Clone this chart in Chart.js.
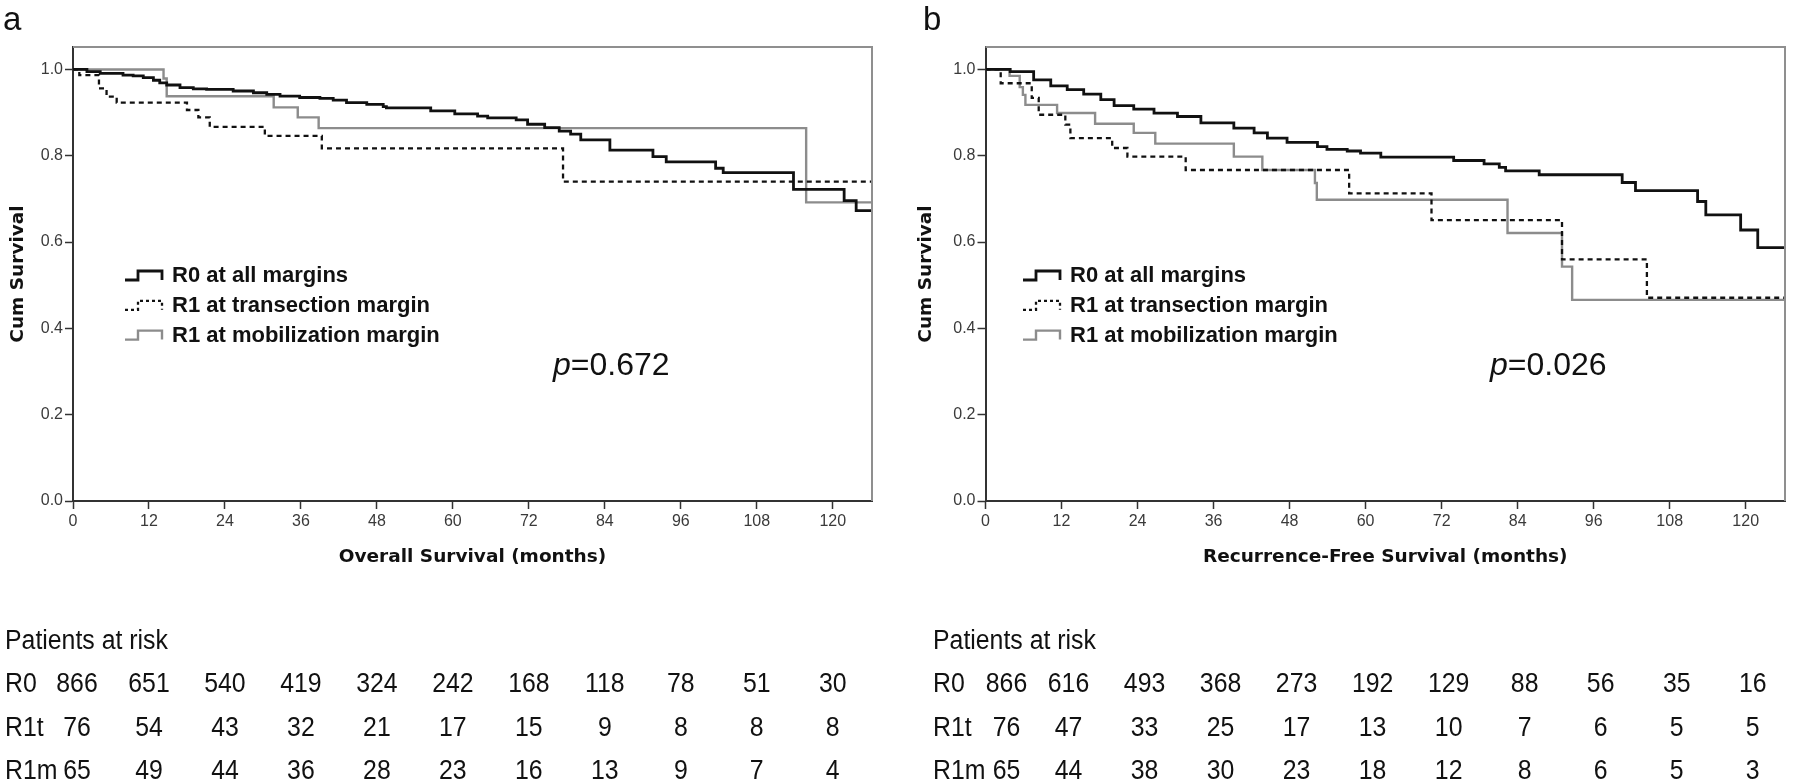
<!DOCTYPE html>
<html>
<head>
<meta charset="utf-8">
<title>Survival by margin status</title>
<script src="https://cdn.jsdelivr.net/npm/chart.js@4.4.1/dist/chart.umd.min.js"></script>
<style>
  html, body { margin: 0; padding: 0; background: #fff; }
  .row { display: flex; width: 1800px; height: 784px; }
  canvas { display: block; }
</style>
</head>
<body>
<div class="row">
  <canvas id="osChart" width="900" height="784"></canvas>
  <canvas id="rfsChart" width="900" height="784"></canvas>
</div>
<script>
const monthTicks = [0, 12, 24, 36, 48, 60, 72, 84, 96, 108, 120];
const survivalTicks = [0, 0.2, 0.4, 0.6, 0.8, 1.0];
const groupNames = ["R0 at all margins", "R1 at transection margin", "R1 at mobilization margin"];
const riskLabels = ["R0", "R1t", "R1m"];
const maxMonth = 126.2;

// a - overall survival, KM steps
const osR0Months = [0, 2.2, 4.3, 7.9, 9.5, 11.1, 12.7, 13.7, 14.8, 16.9, 19, 21.1, 25.3, 28.5, 30.6, 32.7, 35.8, 39, 41.1, 43.2, 46.4, 49, 49.5, 56.5, 60.3, 63.9, 65.5, 70, 71.8, 74.5, 76.8, 78.6, 80.2, 84.8, 91.6, 93.7, 101.5, 102.7, 113.8, 121.8, 123.7, 126.2];
const osR0Surv = [1, 0.995, 0.991, 0.987, 0.985, 0.981, 0.975, 0.969, 0.964, 0.958, 0.955, 0.954, 0.950, 0.946, 0.942, 0.938, 0.935, 0.933, 0.929, 0.923, 0.919, 0.914, 0.911, 0.904, 0.897, 0.892, 0.888, 0.883, 0.873, 0.865, 0.857, 0.850, 0.837, 0.813, 0.798, 0.786, 0.771, 0.761, 0.722, 0.696, 0.673, 0.673];
const osR1tMonths = [0, 1, 4.1, 5.3, 6.9, 18, 19.8, 21.6, 30.3, 39.3, 77.4, 126.2];
const osR1tSurv = [1, 0.987, 0.956, 0.937, 0.923, 0.906, 0.889, 0.867, 0.846, 0.817, 0.740, 0.740];
const osR1mMonths = [0, 14.3, 14.8, 31.7, 35.5, 38.8, 115.8, 126.2];
const osR1mSurv = [1, 0.979, 0.938, 0.912, 0.889, 0.864, 0.692, 0.692];
const osRiskR0 = [866, 651, 540, 419, 324, 242, 168, 118, 78, 51, 30];
const osRiskR1t = [76, 54, 43, 32, 21, 17, 15, 9, 8, 8, 8];
const osRiskR1m = [65, 49, 44, 36, 28, 23, 16, 13, 9, 7, 4];
const osPValue = "0.672";

// b - recurrence-free survival
const rfsR0Months = [0, 3.9, 7.6, 10.3, 12.9, 15.5, 18.2, 20.3, 23.4, 26.6, 30.3, 34, 39.2, 42.4, 44.5, 47.6, 52.4, 53.9, 57.1, 59.2, 62.4, 73.9, 78.7, 81.1, 82.1, 87.4, 100.5, 102.6, 112.4, 113.7, 119.2, 121.9, 126.2];
const rfsR0Surv = [1, 0.995, 0.976, 0.962, 0.953, 0.943, 0.930, 0.916, 0.908, 0.899, 0.891, 0.876, 0.864, 0.853, 0.841, 0.831, 0.821, 0.815, 0.811, 0.806, 0.797, 0.789, 0.781, 0.773, 0.765, 0.756, 0.738, 0.719, 0.694, 0.663, 0.628, 0.587, 0.587];
const rfsR1tMonths = [0, 2.4, 7.3, 8.4, 12.6, 13.4, 20, 22.4, 31.6, 57.4, 70.4, 91, 104.4, 126.2];
const rfsR1tSurv = [1, 0.968, 0.934, 0.895, 0.872, 0.841, 0.818, 0.798, 0.767, 0.713, 0.651, 0.560, 0.471, 0.471];
const rfsR1mMonths = [0, 3.8, 5.4, 5.9, 6.3, 11.3, 17.3, 23.4, 26.8, 39.2, 43.7, 52, 52.3, 82.4, 91, 92.6, 126.2];
const rfsR1mSurv = [1, 0.985, 0.959, 0.941, 0.918, 0.899, 0.874, 0.853, 0.828, 0.798, 0.767, 0.737, 0.698, 0.621, 0.543, 0.466, 0.466];
const rfsRiskR0 = [866, 616, 493, 368, 273, 192, 129, 88, 56, 35, 16];
const rfsRiskR1t = [76, 47, 33, 25, 17, 13, 10, 7, 6, 5, 5];
const rfsRiskR1m = [65, 44, 38, 30, 23, 18, 12, 8, 6, 5, 3];
const rfsPValue = "0.026";

const FONT = '"Liberation Sans", Arial, sans-serif';
const TITLE_FONT = '"DejaVu Sans", Verdana, sans-serif';

const lineStyles = [
    { color: "#111111", width: 2.8, dash: [] },
    { color: "#111111", width: 2.3, dash: [5, 4] },
    { color: "#8c8c8c", width: 2.4, dash: [] }
];

function toPoints(months, surv) {
    return months.map((m, i) => ({ x: m, y: surv[i] }));
}

function drawGlyph(ctx, x, yc, style) {
    ctx.save();
    ctx.strokeStyle = style.color;
    ctx.lineWidth = style.width;
    ctx.setLineDash(style.dash.length ? [3, 3] : []);
    ctx.beginPath();
    ctx.moveTo(x, yc + 4);
    ctx.lineTo(x + 13, yc + 4);
    ctx.lineTo(x + 13, yc - 5);
    ctx.lineTo(x + 37, yc - 5);
    ctx.lineTo(x + 37, yc + 4);
    ctx.stroke();
    ctx.restore();
}

// table text is a little narrower than plain Arial
function narrowText(ctx, text, x, y, align) {
    ctx.save();
    ctx.translate(x, y);
    ctx.scale(0.92, 1);
    ctx.textAlign = align;
    ctx.fillText(text, 0, 0);
    ctx.restore();
}

function kmChart(canvasId, panel) {
    const extras = {
        id: "kmExtras",
        afterDraw(chart) {
            const ctx = chart.ctx;
            const area = chart.chartArea;
            const xScale = chart.scales.x;
            ctx.save();

            // grey frame on top and right
            ctx.strokeStyle = "#8f8f8f";
            ctx.lineWidth = 2;
            ctx.beginPath();
            ctx.moveTo(area.left, area.top);
            ctx.lineTo(area.right, area.top);
            ctx.lineTo(area.right, area.bottom);
            ctx.stroke();

            ctx.fillStyle = "#111";
            ctx.textBaseline = "alphabetic";
            ctx.font = "33px " + FONT;
            ctx.fillText(panel.letter, panel.letterX, 30);

            // legend
            ctx.font = "bold 22px " + FONT;
            ctx.textBaseline = "middle";
            groupNames.forEach((name, i) => {
                const yc = 276 + i * 29.8;
                drawGlyph(ctx, panel.legendX, yc, lineStyles[i]);
                ctx.fillStyle = "#111";
                ctx.fillText(name, panel.legendX + 47, yc);
            });

            // p value
            ctx.textBaseline = "alphabetic";
            ctx.font = "italic 32px " + FONT;
            ctx.fillText("p", panel.pX, 375);
            const pw = ctx.measureText("p").width;
            ctx.font = "32px " + FONT;
            ctx.fillText("=" + panel.pValue, panel.pX + pw, 375);

            // patients at risk table
            ctx.font = "27px " + FONT;
            ctx.textBaseline = "middle";
            narrowText(ctx, "Patients at risk", panel.tableX, 642, "left");
            riskLabels.forEach((label, r) => {
                const yc = 685 + r * 43.5;
                narrowText(ctx, label, panel.tableX, yc, "left");
                panel.risk[r].forEach((n, c) => {
                    const shift = c === 0 ? panel.firstColShift : panel.colShift;
                    narrowText(ctx, String(n), xScale.getPixelForValue(monthTicks[c]) + shift, yc, "center");
                });
            });
            ctx.restore();
        }
    };

    const datasets = panel.series.map((s, i) => ({
        label: groupNames[i],
        data: toPoints(s[0], s[1]),
        stepped: true,
        borderColor: lineStyles[i].color,
        borderWidth: lineStyles[i].width,
        borderDash: lineStyles[i].dash,
        pointRadius: 0,
        fill: false
    }));

    return new Chart(document.getElementById(canvasId), {
        type: "line",
        data: { datasets },
        plugins: [extras],
        options: {
            responsive: false,
            animation: false,
            layout: { padding: { left: 0, top: 47, right: panel.padRight, bottom: 0 } },
            plugins: { legend: { display: false }, tooltip: { enabled: false } },
            scales: {
                x: {
                    type: "linear",
                    min: 0,
                    max: maxMonth,
                    afterBuildTicks: (s) => { s.ticks = monthTicks.map(v => ({ value: v })); },
                    afterFit: (s) => { s.height = 784 - 501; },
                    grid: { drawOnChartArea: false, drawTicks: true, tickLength: 8, tickColor: "#333", tickWidth: 1.5 },
                    border: { display: true, color: "#333", width: 2 },
                    ticks: { color: "#3a3a3a", font: { family: FONT, size: 16 }, padding: 3, maxRotation: 0, autoSkip: false },
                    title: {
                        display: true,
                        text: panel.xTitle,
                        color: "#111",
                        font: { family: TITLE_FONT, size: 18.5, weight: "bold" },
                        padding: { top: 0, bottom: 216 }
                    }
                },
                y: {
                    min: 0,
                    max: 1.052,
                    afterBuildTicks: (s) => { s.ticks = survivalTicks.map(v => ({ value: v })); },
                    afterFit: (s) => { s.width = panel.axisWidth; },
                    grid: { drawOnChartArea: false, drawTicks: true, tickLength: 8, tickColor: "#333", tickWidth: 1.5 },
                    border: { display: true, color: "#333", width: 2 },
                    ticks: { color: "#3a3a3a", font: { family: FONT, size: 16 }, padding: 2, callback: (v) => Number(v).toFixed(1) },
                    title: {
                        display: true,
                        text: "Cum Survival",
                        color: "#111",
                        font: { family: TITLE_FONT, size: 18.5, weight: "bold" },
                        padding: { top: panel.yTitlePad, bottom: 0 }
                    }
                }
            }
        }
    });
}

kmChart("osChart", {
    letter: "a",
    xTitle: "Overall Survival (months)",
    series: [[osR0Months, osR0Surv], [osR1tMonths, osR1tSurv], [osR1mMonths, osR1mSurv]],
    risk: [osRiskR0, osRiskR1t, osRiskR1m],
    pValue: osPValue,
    axisWidth: 73, yTitlePad: 7, padRight: 28,
    legendX: 125, pX: 553, letterX: 3,
    tableX: 5, colShift: 0, firstColShift: 4
});

kmChart("rfsChart", {
    letter: "b",
    xTitle: "Recurrence-Free Survival (months)",
    series: [[rfsR0Months, rfsR0Surv], [rfsR1tMonths, rfsR1tSurv], [rfsR1mMonths, rfsR1mSurv]],
    risk: [rfsRiskR0, rfsRiskR1t, rfsRiskR1m],
    pValue: rfsPValue,
    axisWidth: 85.5, yTitlePad: 15, padRight: 15,
    legendX: 123, pX: 590, letterX: 23,
    tableX: 33, colShift: 7, firstColShift: 21
});
</script>
</body>
</html>
